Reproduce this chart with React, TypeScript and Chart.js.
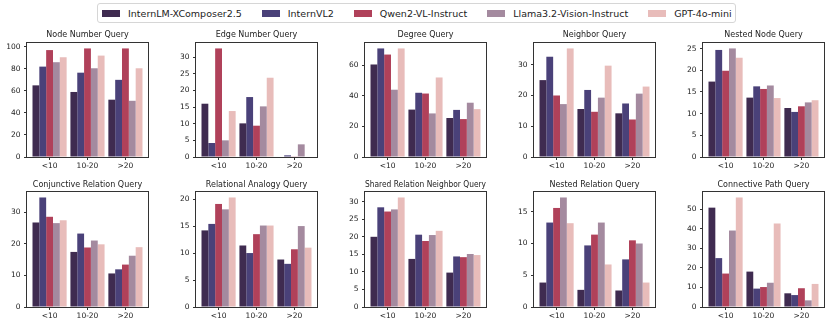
import React, { useEffect, useRef } from 'react';
import { Chart, registerables } from 'chart.js';

Chart.register(...registerables);

const FONT = "'DejaVu Sans', sans-serif";
Chart.defaults.font.family = FONT;

// ---------- data ----------
const categories = ['<10', '10-20', '>20'];
const models = ['InternLM-XComposer2.5', 'InternVL2', 'Qwen2-VL-Instruct', 'Llama3.2-Vision-Instruct', 'GPT-4o-mini'];
const colors = ['#3f2b50', '#4a4179', '#b0415a', '#a48a9f', '#e8bcba'];

// each query: one row per model, one value per category
const nodeNumberQuery = [[65, 59, 52], [82, 76.5, 70], [97, 98.5, 98.5], [86, 80.5, 51], [90.5, 92, 80.5]];
const edgeNumberQuery = [[16, 10.1, 0], [4.2, 18, 0.5], [32.6, 9.4, 0.2], [5, 15.2, 3.8], [13.8, 23.8, 0]];
const degreeQuery = [[60.5, 31, 25.5], [71, 42, 30.8], [67, 41.5, 24.8], [44, 28.5, 35.5], [71, 52, 31.3]];
const neighborQuery = [[25, 15.6, 14.2], [32.6, 21.8, 17.4], [20, 14.7, 12.2], [17.2, 19.3, 20.6], [35.3, 29.7, 22.9]];
const nestedNodeQuery = [[17.4, 13.7, 11.3], [24.7, 16.3, 10.4], [19.9, 15.7, 11.7], [25.05, 16.5, 12.6], [22.9, 13.6, 13.1]];
const conjunctiveRelationQuery = [[26.7, 17.4, 10.6], [34.6, 23.2, 11.9], [28.5, 18.8, 13.4], [26.5, 21, 16.2], [27.4, 19.8, 18.9]];
const relationalAnalogyQuery = [[14.2, 11.4, 8.8], [15.4, 10, 8], [19.1, 13.5, 10.7], [18.1, 15.1, 15], [20.3, 15.1, 11]];
const sharedRelationNeighborQuery = [[20, 13.7, 9.8], [28.4, 20.6, 14.4], [27.2, 18.8, 14.2], [27.8, 20.5, 15.1], [31.2, 21.7, 14.8]];
const nestedRelationQuery = [[3.85, 2.7, 2.6], [13.3, 9.7, 7.5], [15.6, 11.4, 10.5], [17.25, 13.3, 10], [13.2, 6.7, 3.85]];
const connectivePathQuery = [[50.8, 18.1, 7], [25, 9.4, 6.1], [17.1, 10.2, 9.6], [39.1, 12.4, 3.4], [56, 42.7, 11.8]];

const titles = [
  'Node Number Query', 'Edge Number Query', 'Degree Query', 'Neighbor Query', 'Nested Node Query',
  'Conjunctive Relation Query', 'Relational Analogy Query', 'Shared Relation Neighbor Query', 'Nested Relation Query', 'Connective Path Query',
];
const queryValues = [
  nodeNumberQuery, edgeNumberQuery, degreeQuery, neighborQuery, nestedNodeQuery,
  conjunctiveRelationQuery, relationalAnalogyQuery, sharedRelationNeighborQuery, nestedRelationQuery, connectivePathQuery,
];
const tickSteps = [20, 5, 20, 10, 5, 10, 5, 5, 5, 10];

// ---------- layout ----------
const COL_LEFT = [27, 196, 365, 534, 703];
const ROW_TOP = [43, 192];
const ROW_H = [114, 115];
const TITLE_PAD = [[3.2, 3.2], [4.2, 2.2]];
const PLOT_W = 121;
const YW = 26; // y axis width
const XH = 18; // x axis height
const TH = 16; // title block height
const PAD_R = 2;
const TEXT = '#222';
const TICK = '#333';

const frame = {
  id: 'frame',
  afterDatasetsDraw(chart: any) {
    const { ctx, chartArea: a } = chart;
    ctx.save();
    ctx.strokeStyle = '#333';
    ctx.lineWidth = 1;
    ctx.strokeRect(Math.round(a.left) - 0.5, Math.round(a.top) - 0.5, Math.round(a.right - a.left) + 1, Math.round(a.bottom - a.top) + 1);
    ctx.restore();
  },
};

function Panel({ idx }: { idx: number }) {
  const ref = useRef<HTMLCanvasElement>(null);
  const row = Math.floor(idx / 5);
  const col = idx % 5;
  const left = COL_LEFT[col];
  const top = ROW_TOP[row];
  const plotH = ROW_H[row];
  const cw = YW + PLOT_W + PAD_R;
  const ch = TH + plotH + XH;

  useEffect(() => {
    const values = queryValues[idx];
    const step = tickSteps[idx];
    const ymax = Math.max(...values.flat()) * 1.05;
    const chart = new Chart(ref.current as HTMLCanvasElement, {
      type: 'bar',
      data: {
        datasets: models.map((m, i) => ({
          label: m,
          data: categories.map((_, j) => ({ x: j, y: values[i][j] })),
          backgroundColor: colors[i],
          categoryPercentage: 0.9,
          barPercentage: 1,
        })),
      },
      options: {
        animation: false,
        responsive: false,
        events: [],
        layout: { padding: { left: 0, right: PAD_R, top: 0, bottom: 0 } },
        plugins: {
          legend: { display: false },
          tooltip: { enabled: false },
          title: {
            display: true,
            text: titles[idx],
            fullSize: false,
            color: TEXT,
            font: { size: 8, weight: 'normal' },
            padding: { top: TITLE_PAD[row][0], bottom: TITLE_PAD[row][1] },
          },
        },
        scales: {
          x: {
            type: 'linear',
            bounds: 'data',
            offset: false,
            min: -0.595,
            max: 2.595,
            afterBuildTicks: (s: any) => { s.ticks = categories.map((_, j) => ({ value: j })); },
            afterFit: (s: any) => { s.height = XH; },
            ticks: {
              callback: (v: any) => categories[Math.round(v)],
              color: TEXT,
              font: { size: 7.5 },
              padding: 2,
              maxRotation: 0,
              autoSkip: false,
            },
            grid: { drawOnChartArea: false, tickLength: 3, offset: false, color: TICK },
            border: { display: false },
          },
          y: {
            type: 'linear',
            bounds: 'data',
            min: 0,
            max: ymax,
            afterBuildTicks: (s: any) => {
              const t = [];
              for (let v = 0; v <= ymax + 1e-9; v += step) t.push({ value: v });
              s.ticks = t;
            },
            afterFit: (s: any) => { s.width = YW; },
            ticks: { color: TEXT, font: { size: 7.5 }, padding: 3.5 },
            grid: { drawOnChartArea: false, tickLength: 3, color: TICK },
            border: { display: false },
          },
        },
      } as any,
      plugins: [frame],
    });
    return () => chart.destroy();
  }, []);

  return (
    <canvas
      ref={ref}
      width={cw}
      height={ch}
      style={{ position: 'absolute', left: left - YW, top: top - TH }}
    />
  );
}

function Legend() {
  return (
    <div
      style={{
        position: 'absolute', left: 97, top: 3, height: 20, boxSizing: 'border-box',
        border: '1px solid #d6d6d6', borderRadius: 3, display: 'flex', alignItems: 'center',
        padding: '0 3px 0 4px', fontFamily: FONT, fontSize: 9.5, color: TEXT, whiteSpace: 'nowrap', background: '#fff',
      }}
    >
      {models.map((m, i) => (
        <div key={m} style={{ display: 'flex', alignItems: 'center', marginLeft: i ? 20 : 0 }}>
          <span style={{ display: 'inline-block', width: 18, height: 7, background: colors[i], marginRight: 8 }} />
          <span>{m}</span>
        </div>
      ))}
    </div>
  );
}

export default function App() {
  return (
    <div style={{ position: 'absolute', left: 0, top: 0, width: 830, height: 326, background: '#fff', overflow: 'hidden' }}>
      <Legend />
      {titles.map((_, i) => <Panel key={i} idx={i} />)}
    </div>
  );
}
